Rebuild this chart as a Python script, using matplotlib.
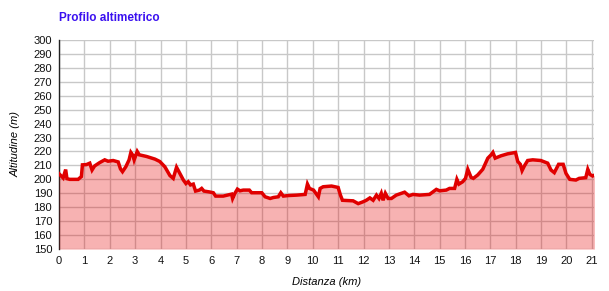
import matplotlib

matplotlib.use("Agg")

import matplotlib.pyplot as plt

# distance (km) and altitude (m)
dist_km = [
    0.0, 0.16, 0.26, 0.31, 0.42, 0.75, 0.88, 0.92, 1.08, 1.21, 1.3, 1.4, 1.6,
    1.8, 1.93, 2.13, 2.33, 2.42, 2.5, 2.63, 2.76, 2.83, 2.92, 2.96, 3.08, 3.16,
    3.45, 3.78, 3.97, 4.17, 4.37, 4.5, 4.63, 4.76, 4.9, 5.0, 5.09, 5.18, 5.29,
    5.38, 5.53, 5.62, 5.71, 5.92, 6.08, 6.17, 6.47, 6.8, 6.84, 6.93, 7.03,
    7.13, 7.26, 7.5, 7.59, 7.99, 8.12, 8.32, 8.45, 8.64, 8.74, 8.84, 9.04,
    9.37, 9.7, 9.79, 9.87, 10.03, 10.22, 10.29, 10.41, 10.74, 11.0, 11.09,
    11.17, 11.59, 11.79, 11.98, 12.11, 12.25, 12.38, 12.51, 12.61, 12.7,
    12.77, 12.86, 12.97, 13.1, 13.29, 13.62, 13.79, 13.95, 14.21, 14.6, 14.87,
    15.0, 15.26, 15.39, 15.59, 15.68, 15.76, 15.91, 16.02, 16.11, 16.24,
    16.33, 16.5, 16.7, 16.9, 17.03, 17.1, 17.19, 17.42, 17.68, 17.99, 18.08,
    18.18, 18.25, 18.34, 18.47, 18.67, 18.99, 19.26, 19.39, 19.52, 19.69,
    19.87, 19.98, 20.13, 20.37, 20.5, 20.76, 20.84, 20.92, 21.03, 21.1,
]
alt_m = [
    204, 201, 207, 200.5, 200, 200, 202, 210.4, 210.6, 211.6, 206.7, 209.6,
    212, 214, 213, 213.5, 212.5, 207.5, 205.5, 209, 214, 219.3, 216.9, 214,
    220, 217.6, 216.4, 214.5, 212.8, 209, 202.7, 200.7, 208.7, 204.3, 199.5,
    197, 198.3, 196, 196.6, 191.6, 192.3, 193.5, 191.6, 191, 190.4, 188, 188,
    189.4, 186.3, 190, 193, 191.8, 192.3, 192.3, 190.4, 190.4, 187.5, 186.3,
    187, 187.5, 190.4, 188, 188.4, 188.7, 189.2, 196.6, 193.5, 192.3, 187.5,
    193.5, 194.7, 195.2, 194.2, 188.7, 185, 184.6, 182.6, 183.9, 185, 186.7,
    185, 188.7, 186.3, 190, 185, 190, 186.3, 186.3, 188.7, 190.8, 188.2,
    189.2, 188.7, 189.2, 192.8, 191.8, 192.3, 193.5, 193.5, 200, 196.6,
    198.3, 200.7, 207.2, 201.4, 200.7, 203.1, 207.2, 215.2, 217.6, 219.3,
    215.2, 216.9, 218.3, 219.3, 212.8, 210.8, 206.3, 209.6, 213.5, 214,
    213.5, 211.6, 206.7, 204.8, 210.8, 210.8, 204.3, 200, 199.5, 200.7,
    201.2, 207.2, 203.6, 202.4, 203,
]
x_ticks = list(range(0, 22))
y_ticks = list(range(150, 301, 10))

plt.rcParams["font.family"] = ["Liberation Sans", "DejaVu Sans"]

fig = plt.figure(figsize=(6.09, 2.91), dpi=100)
ax = fig.add_axes([0.097, 0.144, 0.879, 0.719])

ax.fill_between(dist_km, alt_m, 150, color="#e60000", alpha=0.3, linewidth=0, zorder=3)
ax.plot(dist_km, alt_m, color="#e00000", linewidth=2.5, solid_joinstyle="miter", zorder=4)

ax.set_xlim(0, 21.1)
ax.set_ylim(150, 300)
ax.set_xticks(x_ticks)
ax.set_yticks(y_ticks)
ax.grid(True, color="#c8c8c8", linewidth=1, zorder=1)
ax.set_axisbelow(True)
ax.tick_params(length=0, labelsize=8, colors="#111111", pad=5)

for side in ("top", "right", "bottom"):
    ax.spines[side].set_visible(False)
ax.spines["left"].set_color("#222222")
ax.spines["left"].set_linewidth(1)

ax.set_xlabel("Distanza (km)", fontsize=8, style="italic", labelpad=8)
ax.set_ylabel("Altitudine (m)", fontsize=8, style="italic", labelpad=9)

fig.text(0.097, 0.938, "Profilo altimetrico", fontsize=8.5, fontweight="bold",
         color="#3a10f0", ha="left", va="center")

fig.savefig("out.png", dpi=100)
plt.close(fig)
